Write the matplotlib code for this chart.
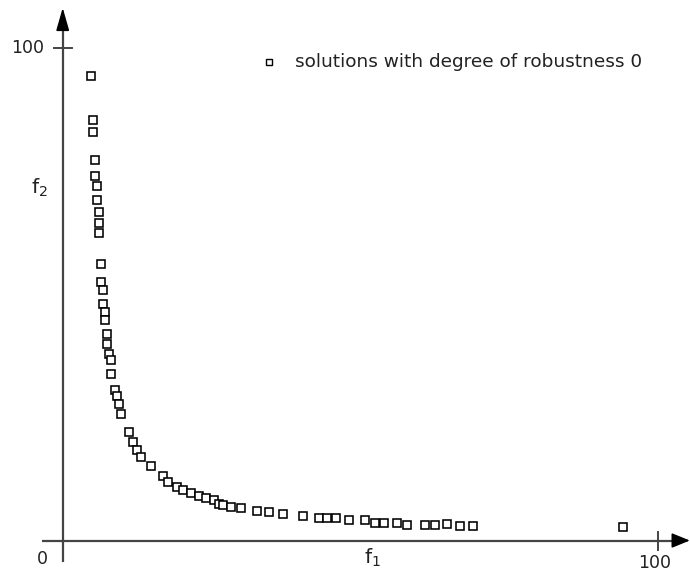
import numpy as np
import matplotlib
matplotlib.use('Agg')
import matplotlib.pyplot as plt

# objective values of the non-dominated solutions (f1, f2)
f1 = [4.76, 5.14, 5.14, 5.38, 5.38, 5.76, 5.76, 6.05, 6.05, 6.05,
      6.44, 6.49, 6.82, 6.82, 7.11, 7.11, 7.48, 7.48, 7.73, 8.17,
      8.12, 8.79, 9.08, 9.41, 9.80, 11.09, 11.82, 12.44, 13.16, 14.84,
      16.86, 17.75, 19.16, 20.22, 21.60, 22.86, 24.00, 25.43, 26.27, 26.99,
      28.29, 29.97, 32.61, 34.67, 37.03, 40.39, 43.13, 44.47, 45.85, 48.12,
      50.81, 52.49, 54.00, 56.13, 57.87, 60.97, 62.52, 64.59, 66.72, 68.96,
      94.22]
f2 = [94.26, 85.39, 82.89, 77.27, 73.97, 71.94, 69.09, 66.72, 64.37, 62.50,
      56.07, 52.52, 50.77, 48.05, 46.37, 44.68, 41.96, 39.87, 37.91, 36.57,
      33.75, 30.60, 29.26, 27.70, 25.71, 21.96, 19.99, 18.37, 17.00, 15.05,
      13.03, 11.93, 10.92, 10.19, 9.74, 8.97, 8.56, 8.16, 7.41, 7.20,
      6.86, 6.60, 6.05, 5.84, 5.37, 4.91, 4.50, 4.50, 4.50, 4.16,
      4.10, 3.61, 3.61, 3.55, 3.15, 3.15, 3.15, 3.25, 2.88, 2.88,
      2.80]

legend_label = 'solutions with degree of robustness 0'
axis_max = 100

fig = plt.figure(figsize=(6.9, 5.79), dpi=100)
ax = fig.add_axes([0, 0, 1, 1])
ax.set_xlim(-10.54, 105.43)
ax.set_ylim(-7.81, 109.68)
ax.axis('off')

axcol = '#444444'
# hand-drawn style axes crossing at the origin
ax.plot([-3.5, 103.5], [0, 0], color=axcol, lw=1.6, solid_capstyle='butt', zorder=1)
ax.plot([0, 0], [-4.3, 104.5], color=axcol, lw=1.6, solid_capstyle='butt', zorder=1)
ax.annotate('', xy=(105.4, 0), xytext=(102.6, 0),
            arrowprops=dict(arrowstyle='-|>,head_length=1.1,head_width=0.45',
                            color='black', lw=1.2, shrinkA=0, shrinkB=0))
ax.annotate('', xy=(0, 108.1), xytext=(0, 104.0),
            arrowprops=dict(arrowstyle='-|>,head_length=1.4,head_width=0.4',
                            color='black', lw=1.2, shrinkA=0, shrinkB=0))
# ticks at 100
ax.plot([axis_max, axis_max], [-1.9, 1.8], color=axcol, lw=1.4)
ax.plot([-1.45, 1.55], [axis_max, axis_max], color=axcol, lw=1.4)

fs = 12.5
ax.text(-3.2, axis_max, '100', ha='right', va='center', fontsize=fs, color='#222222')
ax.text(axis_max - 0.5, -4.5, '100', ha='center', va='center', fontsize=fs, color='#222222')
ax.text(-3.5, -3.8, '0', ha='center', va='center', fontsize=fs, color='#222222')
ax.text(-3.9, 71.5, '$\\mathregular{f_2}$', ha='center', va='center', fontsize=fs + 2, color='#222222')
ax.text(52.0, -3.5, '$\\mathregular{f_1}$', ha='center', va='center', fontsize=fs + 2, color='#222222')

ax.plot(f1, f2, 's', ms=5.3, mfc='white', mec='black', mew=1.15, zorder=3)

# legend entry
ax.plot([34.7], [97.1], 's', ms=4.2, mfc='white', mec='black', mew=1.0)
ax.text(39.0, 97.1, legend_label, ha='left', va='center', fontsize=13.3, color='#222222')

plt.savefig('out.png', dpi=100)
